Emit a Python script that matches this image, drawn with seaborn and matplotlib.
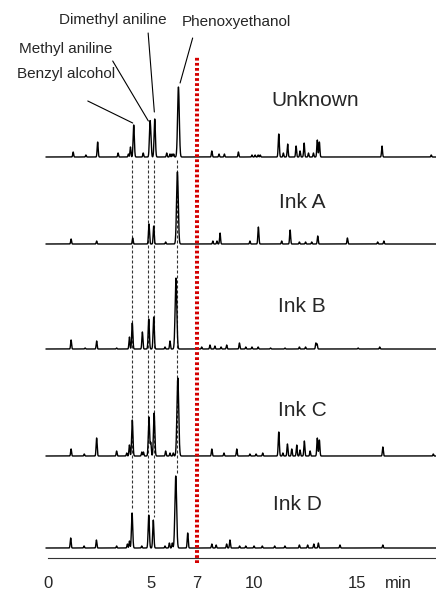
import numpy as np
import pandas as pd
import seaborn as sns
import matplotlib.pyplot as plt

# Peak tables: retention time (min) and peak height
unknown_rt = [1.22, 1.84, 2.41, 3.40, 3.90, 4.00, 4.16, 4.62, 4.95, 5.00, 5.18, 5.76, 5.92, 6.02, 6.10,
              6.33, 7.95, 8.30, 8.56, 9.24, 9.90, 10.05, 10.20, 10.30, 11.20, 11.42, 11.63, 12.04, 12.23,
              12.43, 12.64, 12.88, 13.07, 13.17, 16.21, 18.60]
unknown_h = [5, 2, 15, 4, 3, 10, 32, 4, 35, 12, 38, 4, 3, 3, 3,
             70, 6, 3, 3, 5, 2, 2, 2, 2, 23, 4, 13, 11, 6,
             14, 4, 4, 17, 15, 11, 2]

inkA_rt = [1.12, 2.36, 4.11, 4.90, 5.13, 5.71, 6.28, 8.00, 8.20, 8.35, 9.80, 10.21, 11.34, 11.75,
           12.20, 12.50, 12.80, 13.09, 14.53, 16.00, 16.30]
inkA_h = [5, 3, 6, 20, 18, 2, 72, 3, 3, 11, 3, 17, 3, 14,
          2, 2, 2, 8, 6, 2, 3]

inkB_rt = [1.12, 1.80, 2.36, 3.33, 3.95, 4.09, 4.58, 4.89, 5.13, 5.68, 5.92, 6.21, 7.46, 7.86, 8.10,
           8.40, 8.67, 9.29, 9.60, 9.90, 10.20, 10.80, 11.50, 12.20, 12.50, 13.00, 13.06, 15.05, 16.10]
inkB_h = [9, 1, 8, 1, 12, 26, 17, 30, 32, 2, 8, 71, 2, 4, 3,
          2, 4, 6, 2, 2, 2, 1, 1, 2, 2, 6, 5, 1, 2]

inkC_rt = [1.12, 1.76, 2.36, 3.33, 3.82, 3.95, 4.09, 4.55, 4.63, 4.90, 4.99, 5.15, 5.71, 5.92, 6.08,
           6.30, 7.95, 8.54, 9.16, 9.80, 10.10, 10.42, 11.20, 11.40, 11.62, 11.83, 12.07, 12.23, 12.44,
           12.72, 13.07, 13.17, 16.25, 18.70]
inkC_h = [7, 2, 18, 5, 3, 11, 36, 4, 4, 39, 13, 43, 5, 3, 3,
          78, 7, 3, 7, 2, 2, 3, 24, 3, 12, 7, 11, 6, 15,
          5, 18, 16, 9, 2]

inkD_rt = [1.10, 1.75, 2.35, 3.33, 3.85, 3.95, 4.08, 4.55, 4.89, 5.11, 5.68, 5.89, 6.03, 6.20, 6.78,
           7.95, 8.16, 8.67, 8.83, 9.30, 9.60, 10.00, 10.40, 11.00, 11.50, 12.20, 12.60, 12.90, 13.12,
           14.17, 16.25]
inkD_h = [10, 2, 8, 2, 4, 7, 35, 2, 33, 28, 2, 5, 5, 72, 15,
          4, 3, 4, 8, 2, 2, 2, 2, 2, 2, 3, 3, 4, 5,
          3, 3]

trace_names = ["Unknown", "Ink A", "Ink B", "Ink C", "Ink D"]
trace_rt = [unknown_rt, inkA_rt, inkB_rt, inkC_rt, inkD_rt]
trace_h = [unknown_h, inkA_h, inkB_h, inkC_h, inkD_h]

# compounds marked by dashed lines (retention time) and Ink D peak height they end on
compound_names = ["Benzyl alcohol", "Methyl aniline", "Dimethyl aniline", "Phenoxyethanol"]
compound_rt = [4.06, 4.87, 5.16, 6.24]
compound_inkD_h = [35, 33, 28, 72]
marker_rt = 7.23  # red dotted line labelled "7"

# layout (vertical stacking of the traces)
offsets = [435, 348, 243, 136, 44]
label_pos = [(12.96, 492), (12.33, 390), (12.33, 285), (12.35, 181), (12.11, 87)]

t = np.arange(-0.1, 18.85, 0.004)


def trace(rts, hs):
    y = np.zeros_like(t)
    for r, h in zip(rts, hs):
        s = 0.02 + 0.0003 * h
        y += h * np.exp(-0.5 * ((t - r) / s) ** 2)
    return y


rows = []
for name, rts, hs, off in zip(trace_names, trace_rt, trace_h, offsets):
    rows.append(pd.DataFrame({"time": t, "signal": trace(rts, hs) + off, "sample": name}))
df = pd.concat(rows, ignore_index=True)

sns.set_style("white")
plt.rcParams['font.family'] = ['Liberation Sans', 'DejaVu Sans']

fig = plt.figure(figsize=(4.36, 5.92), dpi=100)
ax = fig.add_axes([0, 0, 1, 1])

# dashed guide lines from Unknown down to Ink D peaks
for r, h_top in zip(compound_rt, compound_inkD_h):
    ax.plot([r, r], [432, offsets[-1] + h_top + 3], color="#333333", lw=0.8,
            dashes=(2.7, 1.8), zorder=1)

sns.lineplot(data=df, x="time", y="signal", units="sample", estimator=None,
             color="black", lw=1.0, ax=ax, zorder=2)

# red dotted line
ax.plot([marker_rt, marker_rt], [29, 535], color="#d40000", lw=2.9,
        dashes=(0.68, 0.58), zorder=3)

for name, (x, y) in zip(trace_names, label_pos):
    ax.text(x, y, name, fontsize=15, ha="center", va="center")

# compound annotations with leader lines
ax.text(3.13, 572, "Dimethyl aniline", fontsize=11, ha="center", va="center")
ax.plot([4.86, 5.16], [559, 480], color="black", lw=0.8)
ax.text(0.87, 543, "Methyl aniline", fontsize=11, ha="center", va="center")
ax.plot([3.14, 4.87], [531, 471], color="black", lw=0.8)
ax.text(0.90, 518, "Benzyl alcohol", fontsize=11, ha="center", va="center")
ax.plot([1.93, 4.11], [491, 469], color="black", lw=0.8)
ax.text(9.15, 570, "Phenoxyethanol", fontsize=11, ha="center", va="center")
ax.plot([7.02, 6.41], [554, 509], color="black", lw=0.8)

ax.set_xlim(-2.33, 18.83)
ax.set_ylim(0, 592)
for s in ["left", "top", "right"]:
    ax.spines[s].set_visible(False)
ax.spines["bottom"].set_position(("data", 34))
ax.spines["bottom"].set_bounds(0, 18.83)
ax.spines["bottom"].set_color("#333333")
ax.set_xticks([0, 5, 10, 15])
ax.tick_params(axis="x", direction="out", length=5, width=0.8, color="#333333",
               labelsize=12, pad=8)
ax.set_yticks([])
ax.set_xlabel("")
ax.set_ylabel("")
ax.text(marker_rt, 8, "7", fontsize=12, ha="center", va="center")
ax.text(17.0, 8, "min", fontsize=12, ha="center", va="center")

plt.savefig("out.png", dpi=100)
